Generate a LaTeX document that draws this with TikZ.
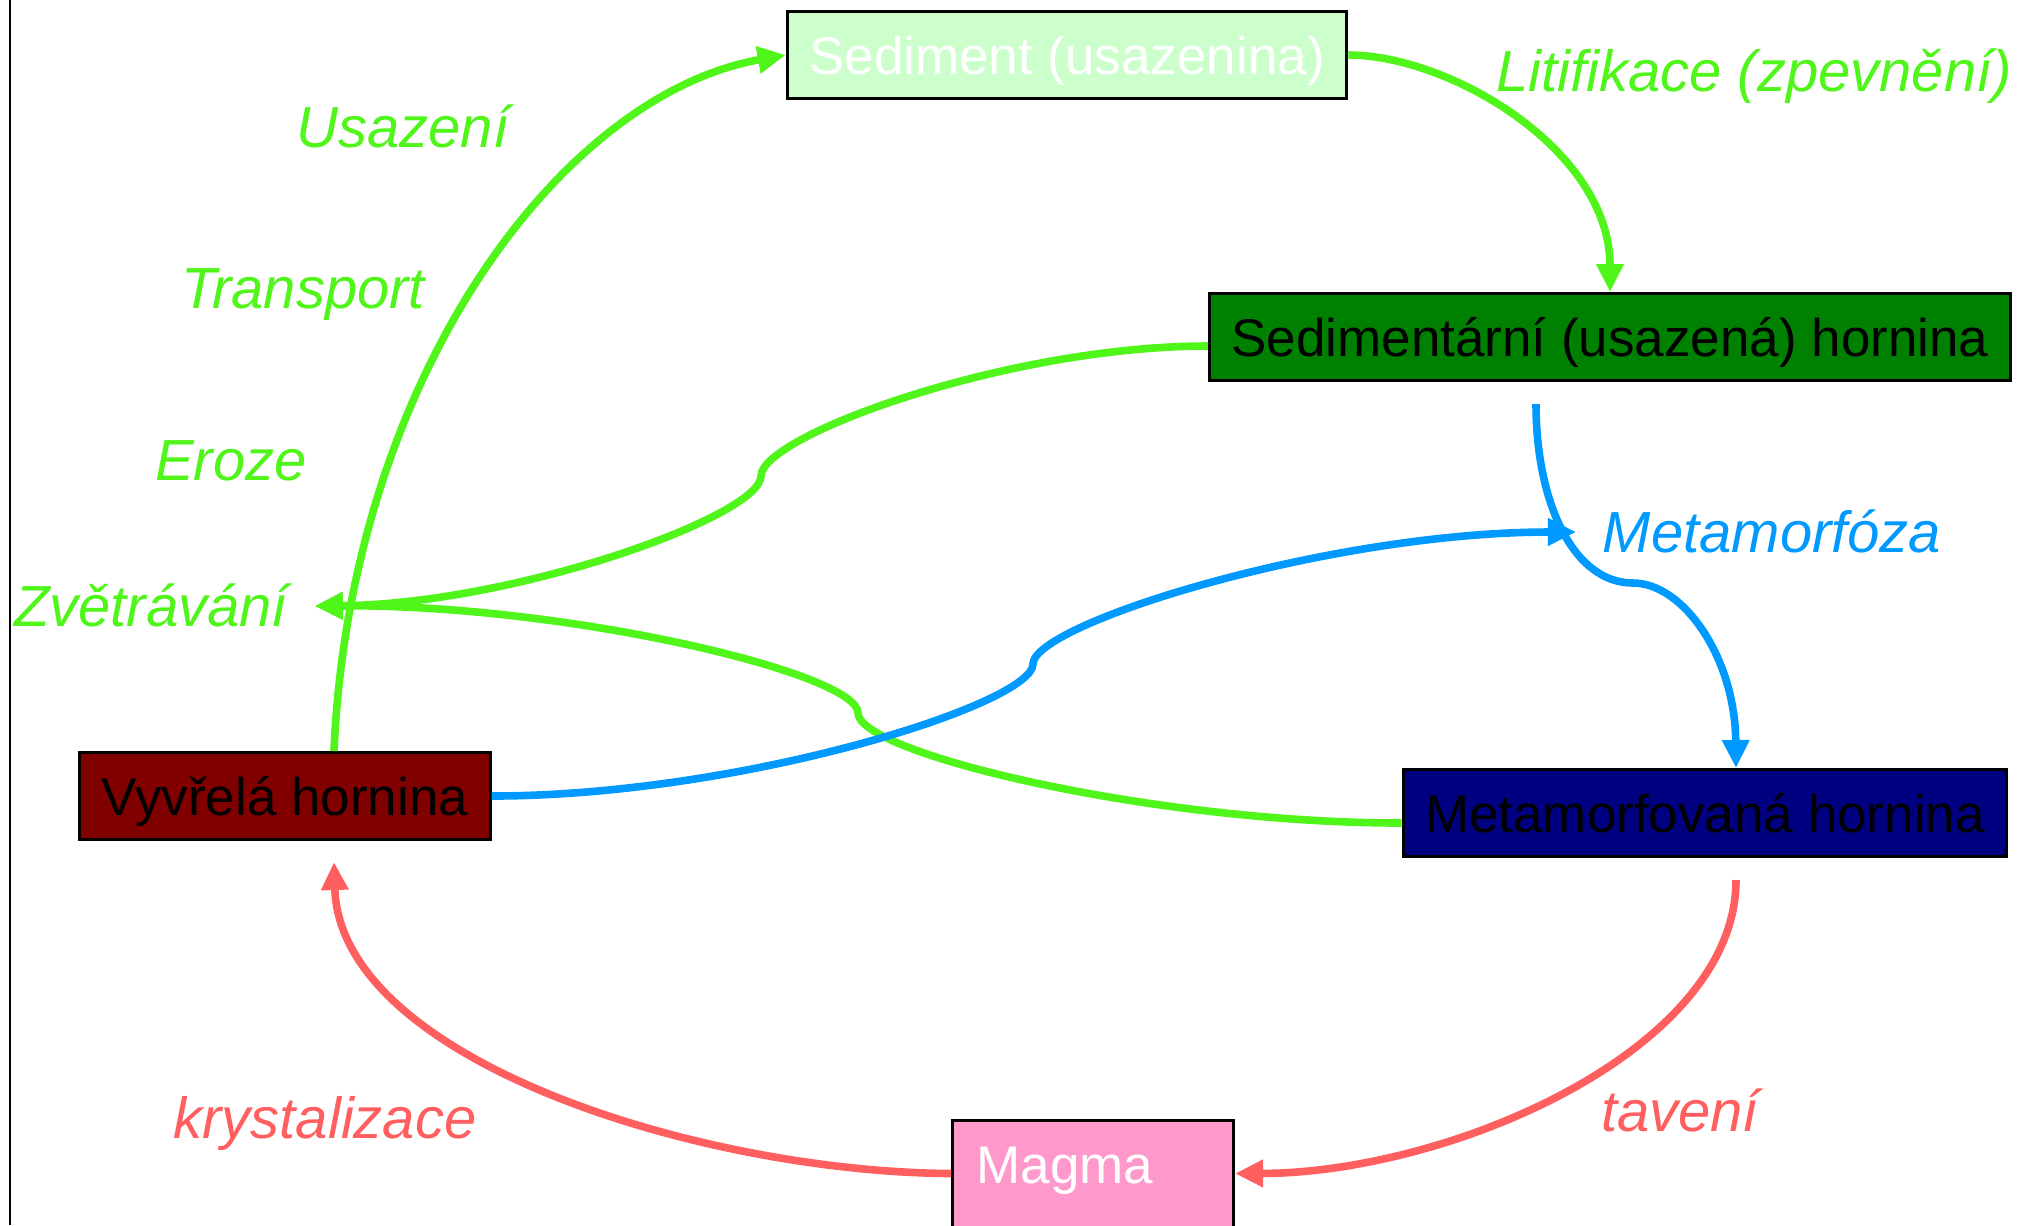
\documentclass[tikz,border=0pt]{standalone}
\usepackage{fontspec}
\setmainfont{Liberation Sans}
\usetikzlibrary{arrows.meta}

\definecolor{GreenFlow}{RGB}{80,245,25}
\definecolor{BlueFlow}{RGB}{0,153,255}
\definecolor{RedFlow}{RGB}{255,95,95}
\definecolor{SedLight}{RGB}{204,255,204}
\definecolor{SedDark}{RGB}{0,128,0}
\definecolor{IgnRed}{RGB}{128,0,0}
\definecolor{MetNavy}{RGB}{0,0,128}
\definecolor{MagPink}{RGB}{255,153,204}

\begin{document}
\begin{tikzpicture}[x=0.25pt,y=-0.25pt,
  rock/.style={draw=black,line width=0.75pt,inner xsep=5.5pt,inner ysep=0pt,minimum height=21.75pt,text height=9.5pt,text depth=0pt,font=\fontsize{13.25pt}{16pt}\selectfont},
  process/.style={inner xsep=6.5pt,inner ysep=0pt,text height=10.4pt,text depth=0pt,font=\fontsize{14.5pt}{17pt}\selectfont\itshape},
  flow/.style={line width=1.9pt,-{Triangle[length=7pt,width=6.5pt]}}]
\useasboundingbox (0,0) rectangle (2033,1225);
\clip (0,0) rectangle (2033,1225);
\draw[line width=0.6pt] (10,0) -- (10,1225);

\node[rock,fill=SedLight,text=white] (sed) at (1067,55) {Sediment (usazenina)};
\node[rock,fill=SedDark] (sedh) at (1610,337) {Sedimentární (usazená) hornina};
\node[rock,fill=IgnRed] (vyv) at (285,796) {Vyvřelá hornina};
\node[rock,fill=MetNavy] (meta) at (1705,813) {Metamorfovaná hornina};
\node[rock,fill=MagPink,text=white,anchor=north west,inner xsep=6pt,text width=58.25pt,align=left,text height=15.75pt,text depth=20pt] (magma) at (951,1119) {Magma};

\node[process,text=GreenFlow] (usaz) at (403,127) {Usazení};
\node[process,text=GreenFlow] (transp) at (303,288) {Transport};
\node[process,text=GreenFlow] (eroze) at (231,460) {Eroze};
\node[process,text=GreenFlow] (zvet) at (151,606) {Zvětrávání};
\node[process,text=GreenFlow] (litif) at (1754,71) {Litifikace (zpevnění)};
\node[process,text=BlueFlow] (metaf) at (1772,532) {Metamorfóza};
\node[process,text=RedFlow] (kryst) at (325,1118) {krystalizace};
\node[process,text=RedFlow] (tav) at (1680,1111) {tavení};

\coordinate (gbend1) at (761,476);
\coordinate (gbend2) at (858,713);
\coordinate (bbend1) at (1033,664);
\coordinate (bbend2) at (1633,583);

\draw[flow,GreenFlow] ([xshift=12.25pt]vyv.north) .. controls (350,380) and (560,95) .. (sed.west);
\draw[flow,GreenFlow] (sed.east) .. controls (1450,55) and (1610,150) .. (sedh.north);
\draw[flow,GreenFlow] ([yshift=-2.25pt]sedh.west) .. controls (1007,346) and (761,436) .. (gbend1) .. controls (761,516) and (515,604) .. (zvet.east);
\draw[flow,GreenFlow] ([yshift=-2.5pt]meta.west) .. controls (1151,823) and (858,753) .. (gbend2) .. controls (858,673) and (565,604) .. (zvet.east);
\draw[flow,BlueFlow] (vyv.east) .. controls (741,796) and (1033,704) .. (bbend1) .. controls (1033,624) and (1328,532) .. (metaf.west);
\draw[flow,BlueFlow] ([xshift=-18.5pt,yshift=-5.5pt]sedh.south) .. controls (1536,502) and (1573,583) .. (bbend2) .. controls (1683,583) and (1735,657) .. ([xshift=7.75pt]meta.north);
\draw[flow,RedFlow] ([xshift=7.75pt,yshift=-5.5pt]meta.south) .. controls (1736,1050) and (1450,1173) .. ([yshift=2.5pt]magma.base east);
\draw[flow,RedFlow] ([yshift=2.5pt]magma.base west) .. controls (700,1172) and (340,1060) .. ([xshift=12.25pt,yshift=-5.25pt]vyv.south);
\end{tikzpicture}
\end{document}
